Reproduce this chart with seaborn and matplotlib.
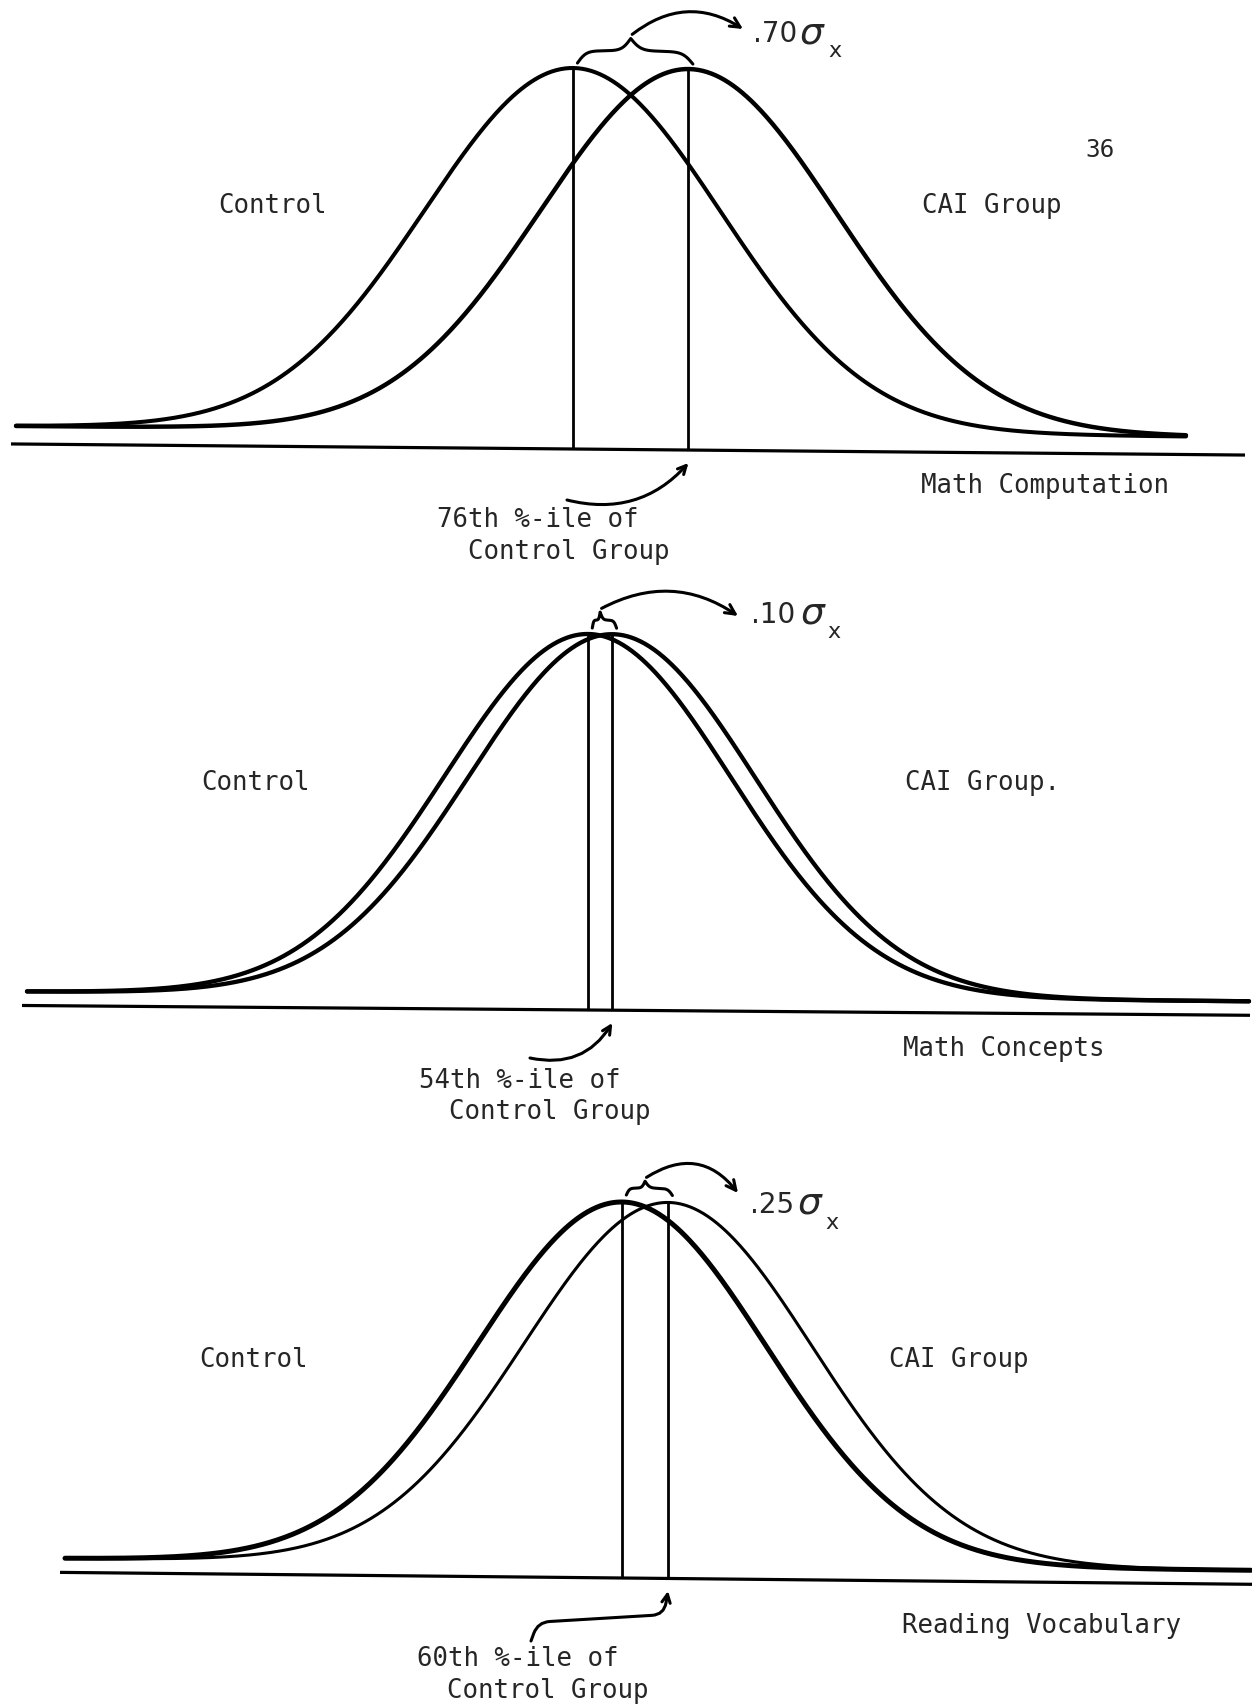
import numpy as np
import pandas as pd
import seaborn as sns
import matplotlib.pyplot as plt
from matplotlib.transforms import Affine2D

W, H = 1252, 1705

# values
tests = ["Math Computation", "Math Concepts", "Reading Vocabulary"]
effect_labels = [".70", ".10", ".25"]
percentile_labels = ["76th", "54th", "60th"]
cai_labels = ["CAI Group", "CAI Group.", "CAI Group"]
# CAI mean offset as it is drawn, in control-group SD units
drawn_shift = [0.78, 0.17, 0.32]

# layout of each panel, in pixels from the top-left corner
PEAK_Y = [68, 634, 1202]
FLOOR_Y = [431, 996, 1564]
AXIS_Y = [449, 1010, 1578]
MEAN_X = [573, 588, 622]
SIGMA_PX = [148, 143, 144]
TILT = [0.009, 0.008, 0.010]   # the scanned page is slightly skewed
CURVE_X = [(16, 1186), (27, 1249), (65, 1251)]
AXIS_X = [(11, 1245), (22, 1250), (60, 1252)]
CONTROL_LW = [2.9, 3.1, 3.6]
CAI_LW = [3.2, 3.1, 2.2]

LABEL_Y = [206, 783, 1360]
CONTROL_X = [218, 201, 199]
CAI_X = [922, 905, 889]
TEST_XY = [(921, 486), (903, 1049), (902, 1626)]
PCT_XY = [(437, 527), (419, 1088), (417, 1666)]
GROUP_LINE_XY = [(468, 559), (449, 1119), (447, 1698)]
PCT_ARROW_START = [(567, 500), (530, 1058), (531, 1641)]
PCT_ARROW_END_Y = [463, 1023, 1591]
PCT_ARROW_STYLE = ["arc3,rad=0.3", "arc3,rad=0.35",
                   "arc,angleA=70,angleB=-100,armA=20,armB=24,rad=12"]
# effect-size label pieces: digits, sigma, subscript (x, baseline)
DIGITS_XY = [(753, 42), (751, 623), (750, 1213)]
SIGMA_XY = [(799, 43), (800, 624), (797, 1214)]
SUB_XY = [(828, 57), (827, 638), (825, 1229)]
DIGIT_SIZE = [20, 20, 20]
SIG_ARROW_END = [(743, 29), (738, 616), (738, 1193)]
SIG_ARROW_RAD = [-0.35, -0.3, -0.45]
BRACE_GAP = [5, 6, 7]
BRACE_H = [25, 16, 14]

sns.set_style("white")
plt.rcParams["font.family"] = ["DejaVu Sans Mono", "DejaVu Sans"]
plt.rcParams["mathtext.fontset"] = "dejavusans"

fig = plt.figure(figsize=(W / 100, H / 100), dpi=100)


def ftext(x, y, s, **kw):
    fig.text(x / W, 1 - y / H, s, **kw)


def sigmoid(t):
    return 1 / (1 + np.exp(-t))


for i in range(3):
    ax = fig.add_axes([0, 0, 1, 1])
    ax.set_axis_off()
    ax.patch.set_alpha(0)
    span = FLOOR_Y[i] - PEAK_Y[i]
    ax.set_xlim(-MEAN_X[i] / SIGMA_PX[i], (W - MEAN_X[i]) / SIGMA_PX[i])
    ax.set_ylim((FLOOR_Y[i] - H) / span, FLOOR_Y[i] / span)

    def to_data(px, py):
        return (px - MEAN_X[i]) / SIGMA_PX[i], (FLOOR_Y[i] - py) / span

    d = drawn_shift[i]
    lo = to_data(CURVE_X[i][0], 0)[0]
    hi = to_data(CURVE_X[i][1], 0)[0]
    z = np.linspace(lo, hi, 800)
    df = pd.DataFrame({
        "z": np.concatenate([z, z]),
        "density": np.concatenate([np.exp(-z ** 2 / 2), np.exp(-(z - d) ** 2 / 2)]),
        "group": ["Control"] * len(z) + ["CAI"] * len(z),
    })
    sns.lineplot(data=df[df.group == "Control"], x="z", y="density", color="black",
                 lw=CONTROL_LW[i], estimator=None, ax=ax, solid_capstyle="round")
    sns.lineplot(data=df[df.group == "CAI"], x="z", y="density", color="black",
                 lw=CAI_LW[i], estimator=None, ax=ax, solid_capstyle="round")

    # score axis
    axis_v = to_data(0, AXIS_Y[i])[1]
    ax.hlines(axis_v, to_data(AXIS_X[i][0], 0)[0], to_data(AXIS_X[i][1], 0)[0],
              color="black", lw=2.3)
    # mean markers
    ax.vlines([0, d], axis_v, 1, color="black", lw=2.0)

    # brace over the two means
    gap = BRACE_GAP[i] / span
    bh = BRACE_H[i] / span
    u = np.linspace(0, 1, 150)
    f = sigmoid(12 * u) + sigmoid(12 * (u - 1)) - 0.5
    xm = d / 2
    bx = np.concatenate([np.linspace(0.03, xm, 150), np.linspace(xm, d + 0.03, 150)])
    by = 1 + gap + bh * np.concatenate([f, f[::-1]])
    ax.plot(bx, by, color="black", lw=2.2)

    # skew the drawn lines the way the scan is skewed (pivot on the control mean)
    skew = (Affine2D().translate(-MEAN_X[i], 0).skew(0, -np.arctan(TILT[i]))
            .translate(MEAN_X[i], 0))
    for art in list(ax.lines) + list(ax.collections):
        art.set_transform(ax.transData + skew)

    # arrow from the brace to the effect-size label
    ax.annotate("", xy=to_data(*SIG_ARROW_END[i]), xytext=(xm + 0.01, 1 + gap + bh + 0.01),
                arrowprops=dict(arrowstyle="->,head_length=0.7,head_width=0.35", lw=2.2,
                                color="black",
                                connectionstyle=f"arc3,rad={SIG_ARROW_RAD[i]}",
                                shrinkA=0, shrinkB=0))
    ftext(*DIGITS_XY[i], effect_labels[i], fontsize=DIGIT_SIZE[i], family="DejaVu Sans",
          va="baseline")
    ftext(*SIGMA_XY[i], r"$\sigma$", fontsize=27, va="baseline")
    ftext(*SUB_XY[i], "x", fontsize=16, family="DejaVu Sans", va="baseline")

    # arrow from the percentile note to the CAI mean
    ax.annotate("", xy=(d, to_data(0, PCT_ARROW_END_Y[i])[1]),
                xytext=to_data(*PCT_ARROW_START[i]),
                arrowprops=dict(arrowstyle="->,head_length=0.6,head_width=0.3", lw=2.2,
                                color="black", connectionstyle=PCT_ARROW_STYLE[i],
                                shrinkA=0, shrinkB=0))

    ftext(CONTROL_X[i], LABEL_Y[i], "Control", fontsize=18.5, va="center")
    ftext(CAI_X[i], LABEL_Y[i], cai_labels[i], fontsize=18.5, va="center")
    ftext(*TEST_XY[i], tests[i], fontsize=18.5, va="center")
    ftext(*PCT_XY[i], f"{percentile_labels[i]} %-ile of", fontsize=18.5, va="baseline")
    ftext(*GROUP_LINE_XY[i], "Control Group", fontsize=18.5, va="baseline")

ftext(1085, 150, "36", fontsize=17.5, va="center")

fig.savefig("out.png", dpi=100, facecolor="white")
